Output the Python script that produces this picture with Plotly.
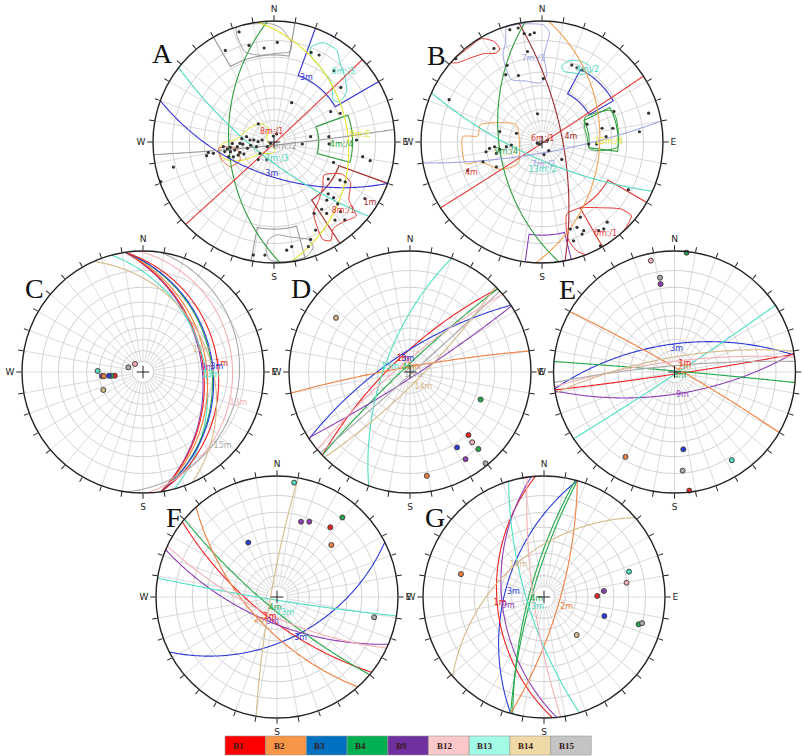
import numpy as np
import plotly.graph_objects as go

W, H = 802, 756
R_PX = 121

# ---------------- colours ----------------
SET_LINE = {"B1": "#EE2222", "B2": "#F08040", "B3": "#2A3BD8", "B4": "#22A84A", "B9": "#8E3FB5",
            "B12": "#F3B0B5", "B13": "#4FE0C4", "B14": "#D6B98A", "B15": "#A9A9A9"}
SET_FILL = {"B1": "#FF0000", "B2": "#F79646", "B3": "#0070C0", "B4": "#00B050", "B9": "#7030A0",
            "B12": "#FAC8C8", "B13": "#A2FBE6", "B14": "#EFD9A6", "B15": "#C4C4C4"}
LEGEND_SETS = ["B1", "B2", "B3", "B4", "B9", "B12", "B13", "B14", "B15"]
AB_COL = {"red": "#E53935", "blue": "#3535D5", "green": "#2E9E3E", "cyan": "#4FD8C0", "yellow": "#E3E32A",
          "grey": "#9A9A9A", "darkred": "#A52A2A", "orange": "#F0A050", "lavender": "#9FA6E0",
          "purple": "#8A3FC0", "maroon": "#9C2A2A", "redorange": "#E86A3A"}

# ---------------- panel A data ----------------
A_planes = [("green", 267, 49), ("red", 137, 89), ("blue", 200, 59), ("cyan", 218, 74),
            ("yellow", 82, 27), ("grey", 174, 87)]
A_dot_trend = [342.4, 332, 345.5, 354, 1.9, 22.5, 27.4, 40, 50.8, 24.2, 61.8, 66.5, 81.7, 94, 84.4, 92,
               88.6, 101, 99.4, 108.9, 124.3, 120, 119.2, 133.7, 133, 137.8, 134.2, 143.6, 150.7, 144.7,
               136.3, 137.7, 142, 154.7, 159.4, 121.9, 173.3, 170.4, 184.6, 190.4, 161.8, 250.7, 256,
               261, 259.4, 258.5, 264.7, 261.5, 257.4, 258.4, 262.7, 253, 248.2, 256.6, 274.8, 275.7,
               271, 279.5, 255, 281, 267.8, 250, 252, 235, 248, 354, 18, 222, 202, 231, 319,
               268, 263, 259, 266, 250, 276, 262]
A_dot_plunge = [2.7, 8.8, 11, 14, 11, 12.6, 12, 14.8, 19, 50.8, 34, 28.4, 56, 63.6, 41, 41,
                21.4, 12, 16.8, 35, 33, 25.6, 22, 26.4, 22, 24, 17.4, 17.5, 21.9, 21.5,
                12.9, 8, 11.4, 12.3, 8.6, 7, 6, 7.5, 3.7, 3, 5.4, 0.5, 8.8,
                32.4, 36, 30.8, 44.4, 47.4, 49.6, 53.4, 56, 57.2, 60, 64.6, 67.5, 71,
                75, 78.6, 73, 64, 58.6, 50.7, 46.8, 82.3, 86.6, 84.3, 82, 68, 72, 73, 67.6,
                52, 50, 45, 61, 55, 60, 68]
# windows: colour, azimuth from, azimuth to, outer plunge, inner plunge
A_windows = [("grey", 330, 370, 0, 18.5), ("blue", 20, 60, 0, 29.4), ("green", 70, 105, 24, 49.4),
             ("darkred", 110, 147, 0, 30.6), ("grey", 165, 191, 0, 18.5)]
A_blobs = [
    ("grey", [342, 348.5, 358.9, 3.9, 6.8, 10.2, 10, 1.7, 350.9, 342.2, 341, 340.8],
             [0, 0.3, 1.4, 3.5, 6.6, 10.7, 15.7, 17.5, 18, 14, 8.4, 3.7]),
    ("cyan", [21.6, 26.4, 34.3, 40, 47.4, 55.3, 58.6, 54.7, 44.5, 31.4, 25.6, 21.7],
             [9.4, 5, 4.8, 9.3, 13, 17.7, 25.2, 28, 21.6, 17.8, 16, 12.6]),
    ("red", [123.4, 115.3, 117.9, 127.6, 132, 138.7, 145.5, 150.1, 153.4, 152.7, 150.5, 143.4, 132.5],
            [37.3, 26.5, 18.8, 14, 5.2, 7.6, 8.2, 3.5, 6, 15.7, 22.9, 26.9, 32.7]),
    ("grey", [183.3, 178.4, 169.5, 160.6, 159.4, 164.1, 174, 182, 184.2],
             [12, 15, 12.6, 9, 4.5, 0.9, 0.3, 1.4, 6.3]),
    ("yellow", [265, 270.4, 273, 285.8, 304.5, 323, 337.5, 296.6, 233, 172, 191.6, 231, 235.8, 241.2, 249.2, 256.5],
               [41.7, 47.2, 54.4, 60.5, 64.8, 68.2, 76, 82.2, 85.3, 83, 79, 73, 63, 54.5, 44.8, 41]),
    ("redorange", [263.5, 251, 240.7, 242, 260.4, 264.4], [40.6, 41.1, 44.9, 54.8, 55.3, 47]),
]
A_labels = [("8m:/1", "red", 346, 80.6), ("9m:/2", "grey", 113, 78.7), ("7m:/3", "cyan", 171, 73.5),
            ("3m", "blue", 184, 60.3), ("9m:E", "yellow", 85.3, 19), ("4m:/4", "green", 92.5, 31.6),
            ("1m", "darkred", 122.6, 3.5), ("8m:/1", "red", 134.9, 12), ("9m:/2", "grey", 176, -6),
            ("6m:/3", "cyan", 44.6, 11.6), ("3m", "blue", 26.8, 28.5)]

# ---------------- panel B data ----------------
B_planes = [("red", 147, 89), ("maroon", 79, 70.7), ("green", 262, 51), ("orange", 93, 39),
            ("cyan", 204, 74), ("lavender", 170, 79.7)]
B_dot_trend = [344, 348.2, 350.7, 353.6, 356, 350.9, 335.5, 331.7, 340.5, 1.2, 351, 294.5, 314, 332.8,
               21.2, 25.2, 29, 74.9, 67, 68.4, 77.1, 79, 85.2, 92, 92.5, 84, 131.4, 171, 142, 225, 254,
               70.6, 288.9, 283.8, 263, 264.3, 260, 262.5, 264.4, 256, 260, 251.5, 241.4, 249, 118.9,
               153, 162, 157.7, 154.8, 162.3, 147.4, 144.6, 140.9, 150.6, 156.5]
B_dot_plunge = [2, 2.2, 5.5, 6.5, 5.7, 15.7, 20.3, 25.4, 29.5, 34.6, 63.4, 9.7, 0.5, 8,
                21.4, 21.7, 21.6, 5.2, 24.3, 46.4, 36, 28.4, 34, 41.5, 47.8, 12, 65.4, 78, 79.6, 87, 85.4,
                84.3, 64.9, 50.4, 42.8, 47, 50.9, 56.9, 61.5, 47.5, 39.7, 35.6, 43.5, 23.4, 11.6,
                20.2, 15.8, 15.4, 12, 8.8, 8, 7.2, 9, 0.9, 10.6]
B_windows = [("blue", 28, 60, 21.6, 41.5), ("green", 63, 97, 25.6, 47.4), ("red", 120, 150, 0, 25.6),
             ("purple", 166, 188, 0, 14.8)]
B_blobs = [
    ("red", [311.1, 323.6, 329.6, 334.7, 335.5, 332.7, 327, 320, 313.2],
            [0, 0.7, 0.5, 5, 9.7, 10.9, 7.8, 5.4, 2.5]),
    ("lavender", [342.7, 350.1, 0.7, 3.9, 2.8, 1.3, 4.1, 358, 345.7, 333.9, 334, 336, 340.3],
                 [0.5, 0.6, 1.9, 5.5, 12, 19.2, 32.7, 38, 35.1, 30.2, 21.3, 13.2, 6.8]),
    ("cyan", [14.6, 18.1, 24.2, 31.3, 34.9, 30.6, 23.4, 17], [24, 19.7, 17.1, 16.8, 19.4, 24, 26.1, 27.2]),
    ("green", [60.2, 65, 70.9, 93.5, 98.5, 98, 83.2, 70], [45.3, 26.5, 24.4, 25.7, 38, 46.6, 48.9, 49.1]),
    ("red", [160.9, 149.8, 138.4, 130.4, 129.5, 138.3, 149.4, 158.4, 162.2, 164.9, 164.2],
            [25.7, 25.6, 18, 9, 2.5, 0, 0, 0, 3.2, 10, 17.5]),
    ("orange", [273.9, 275.4, 285.5, 294.7, 303.9, 228, 236.3, 252.4, 254.3],
               [23.4, 34, 34.1, 47.9, 61.5, 60.2, 45.6, 33.3, 23.3]),
]
B_labels = [("6m:/1", "red", 14, 87.3), ("4m", "maroon", 80.8, 62.8), ("4m", "red", 246.4, 25),
            ("9m:/4", "green", 254.7, 56), ("7m:/2", "lavender", 176.7, 68.3), ("13m:/2", "cyan", 178.6, 63.8),
            ("13m:/4", "yellow", 89.7, 32.1), ("7m:/1", "lavender", 354, 21), ("4m:/2", "cyan", 32.4, 20),
            ("6m:/1", "red", 145.4, 4.5)]

# ---------------- panels C-G: (set, dip direction, dip) ----------------
C_planes = [("B9", 81.5, 38), ("B1", 81.5, 37), ("B13", 75, 36), ("B2", 81.5, 34.5), ("B4", 81.5, 30.8),
            ("B3", 81.5, 30), ("B1", 81.5, 26.4), ("B12", 88, 17), ("B15", 98, 13), ("B14", 66, 32)]
C_poles = [("B1", 262.5, 63.6), ("B4", 263, 60.5), ("B3", 263.7, 58.4), ("B9", 264.5, 52.3), ("B2", 264, 54),
           ("B13", 271.3, 48.9), ("B15", 287.6, 75.5), ("B12", 315, 79.3), ("B14", 245.6, 50.4)]
C_labels = [("9m", "B9", 86.7, 34), ("1m", "B1", 84.4, 23.7), ("3m", "B3", 86, 27), ("14m", "B14", 69.4, 35.2),
            ("13m", "B12", 108.2, 10.6), ("15m", "B15", 133.1, 6), ("13m", "B13", 92.7, 31.5)]

D_planes = [("B1", 316.5, 74), ("B4", 316.5, 84), ("B3", 326.5, 72), ("B9", 147, 85), ("B2", 350, 85),
            ("B13", 290, 66), ("B15", 138, 88), ("B14", 135, 80), ("B12", 320, 80)]
D_poles = [("B14", 306.2, 15.7), ("B4", 111.3, 25.9), ("B1", 137.2, 19.2), ("B12", 138.5, 14.4),
           ("B3", 148, 17.4), ("B4", 138.4, 9.2), ("B9", 147.5, 9), ("B15", 140.4, 1.2), ("B2", 170.8, 8)]
D_labels = [("1m", "B1", 332, 76.4), ("3m", "B3", 350, 78), ("4m", "B4", 335, 86), ("2m", "B2", 35, 84.5),
            ("13m", "B13", 283, 70.6), ("15m", "B15", 132, 85.8), ("14m", "B14", 137.7, 71.3)]

E_planes = [("B3", 352, 64), ("B9", 171, 69.4), ("B1", 171.5, 88), ("B4", 5, 89), ("B2", 30, 86),
            ("B13", 146.5, 88), ("B12", 353, 80), ("B15", 355, 84), ("B14", 350, 76)]
E_poles = [("B12", 348, 3.5), ("B15", 351.3, 13.5), ("B9", 351, 17.3), ("B4", 5.8, 0.5), ("B2", 210, 12),
           ("B3", 173.5, 24.5), ("B15", 175.3, 11.4), ("B13", 147, 8), ("B1", 172.9, 0.7)]
E_labels = [("3m", "B3", 5.5, 68.6), ("9m", "B9", 161, 67.4), ("4m", "B4", 126, 83.6), ("1m", "B1", 52.7, 77.6),
            ("2m", "B2", 62, 79)]

F_planes = [("B3", 153, 51), ("B1", 218.5, 70), ("B4", 220, 79), ("B9", 203, 66), ("B2", 228, 63.4),
            ("B13", 189, 87), ("B14", 280, 84), ("B12", 205, 72)]
F_poles = [("B13", 8.5, 2.6), ("B9", 17.7, 23.7), ("B9", 23.2, 21.8), ("B4", 39.4, 9.2), ("B1", 37.4, 18.1),
           ("B2", 46.3, 26.3), ("B3", 332.2, 36.1), ("B15", 101.8, 11.3)]
F_labels = [("4m", "B4", 190, 79.1), ("13m", "B13", 153, 73.5), ("1m", "B1", 199.6, 70.5), ("2m", "B2", 215.3, 63.4),
            ("9m", "B9", 189.7, 66), ("3m", "B3", 150.3, 47)]

G_planes = [("B3", 286, 54.4), ("B1", 266, 47.4), ("B9", 264, 51.5), ("B4", 286, 78.6), ("B4", 285, 76),
            ("B2", 106, 75), ("B13", 253, 73.7), ("B14", 319, 50.8), ("B12", 262, 80)]
G_poles = [("B2", 285.4, 19.1), ("B13", 73.4, 17.5), ("B12", 80.2, 20.6), ("B1", 88.9, 42.5), ("B9", 84.3, 37.1),
           ("B3", 107.5, 34.8), ("B4", 106.1, 11.7), ("B15", 104.9, 10), ("B14", 139.3, 45)]
G_labels = [("3m", "B3", 280, 61.2), ("1m", "B1", 261.8, 49.7), ("9m", "B9", 256.3, 56.3), ("4m", "B4", 252, 82.7),
            ("13m", "B13", 223, 77.6), ("2m", "B2", 114.5, 66.7), ("14m", "B14", 321.3, 52.6)]

# layout of panels (pixel centres)
PANELS = [("A", 274, 142, (162, 53)), ("B", 542, 142, (436, 55)), ("C", 143, 372, (34, 288)),
          ("D", 410, 372, (301, 288)), ("E", 674.5, 372, (567, 289)), ("F", 277, 597, (174, 517)),
          ("G", 544, 597, (435, 517))]


# ---------------- projection helpers (equal-angle, lower hemisphere) ----------------
def proj(plunge):
    return np.tan(np.radians(90.0 - np.asarray(plunge, dtype=float)) / 2.0)


def great_circle(dd, dip, n=181):
    psi = np.linspace(0, np.pi, n)
    st, d, dp = np.radians(dd - 90), np.radians(dd), np.radians(dip)
    s = np.array([np.cos(st), np.sin(st), 0.0])
    dv = np.array([np.cos(dp) * np.cos(d), np.cos(dp) * np.sin(d), np.sin(dp)])
    v = np.outer(np.cos(psi), s) + np.outer(np.sin(psi), dv)
    trend = np.degrees(np.arctan2(v[:, 1], v[:, 0])) % 360
    plunge = np.degrees(np.arcsin(np.clip(v[:, 2], -1, 1)))
    return trend, proj(plunge)


def window(a1, a2, p_out, p_in):
    az = np.linspace(a1, a2, 40)
    th = np.concatenate([az, az[::-1], az[:1]])
    r = np.concatenate([np.full(40, proj(p_out)), np.full(40, proj(p_in)), [proj(p_out)]])
    return th, r


fig = go.Figure()
ring_r = proj([80, 70, 60, 50, 40, 30, 20, 10])
r_in = float(proj(80))
layout_polars = {}
annotations = []

for i, (name, cx, cy, lpos) in enumerate(PANELS):
    key = "polar" if i == 0 else f"polar{i + 1}"
    sub = "polar" if i == 0 else f"polar{i + 1}"
    ticktext = [{0: "N", 90: "E", 180: "S", 270: "W"}.get(a, "") for a in range(0, 360, 10)]
    layout_polars[key] = dict(
        domain=dict(x=[(cx - R_PX) / W, (cx + R_PX) / W], y=[1 - (cy + R_PX) / H, 1 - (cy - R_PX) / H]),
        bgcolor="rgba(0,0,0,0)",
        radialaxis=dict(range=[0, 1], tickmode="array", tickvals=list(ring_r), showticklabels=False, ticks="",
                        showline=False, gridcolor="#d2d2d2", gridwidth=0.8),
        angularaxis=dict(rotation=90, direction="clockwise", tickmode="array", tickvals=list(range(0, 360, 10)),
                         ticktext=ticktext, ticks="outside", ticklen=5, tickcolor="#222", tickwidth=1,
                         showgrid=False, showline=True, linecolor="#222", linewidth=1.4,
                         tickfont=dict(size=9, family="DejaVu Sans", color="#222")),
    )
    # spokes
    th, rr = [], []
    for a in range(0, 360, 10):
        th += [a, a, None]
        rr += [r_in, 1.0, None]
    fig.add_trace(go.Scatterpolar(theta=th, r=rr, mode="lines", line=dict(color="#d2d2d2", width=0.8),
                                  hoverinfo="skip", showlegend=False, subplot=sub))
    annotations.append(dict(text=name, x=lpos[0] / W, y=1 - lpos[1] / H, xref="paper", yref="paper",
                            showarrow=False, xanchor="center", yanchor="middle",
                            font=dict(family="Liberation Serif", size=28, color="#111")))

    if name in ("A", "B"):
        planes, dtr, dpl, wins, blobs, labels = {
            "A": (A_planes, A_dot_trend, A_dot_plunge, A_windows, A_blobs, A_labels),
            "B": (B_planes, B_dot_trend, B_dot_plunge, B_windows, B_blobs, B_labels)}[name]
        for col, a1, a2, po, pi in wins:
            t, r = window(a1, a2, po, pi)
            fig.add_trace(go.Scatterpolar(theta=t, r=r, mode="lines", line=dict(color=AB_COL[col], width=1.1),
                                          hoverinfo="skip", showlegend=False, subplot=sub))
        for col, bt, bp in blobs:
            fig.add_trace(go.Scatterpolar(theta=bt + bt[:1], r=list(proj(bp + bp[:1])), mode="lines",
                                          line=dict(color=AB_COL[col], width=1, shape="spline", smoothing=0.6),
                                          hoverinfo="skip", showlegend=False, subplot=sub))
        for col, dd, dip in planes:
            t, r = great_circle(dd, dip)
            fig.add_trace(go.Scatterpolar(theta=t, r=r, mode="lines", line=dict(color=AB_COL[col], width=1.1),
                                          hoverinfo="skip", showlegend=False, subplot=sub))
        fig.add_trace(go.Scatterpolar(theta=dtr, r=proj(dpl), mode="markers",
                                      marker=dict(size=3.2, color="#333"), hoverinfo="skip",
                                      showlegend=False, subplot=sub))
        for txt, col, t, p in labels:
            fig.add_trace(go.Scatterpolar(theta=[t], r=[float(proj(p))], mode="text", text=[txt],
                                          textfont=dict(size=8, family="DejaVu Sans", color=AB_COL[col]),
                                          cliponaxis=False, hoverinfo="skip", showlegend=False, subplot=sub))
    else:
        planes, poles, labels = {"C": (C_planes, C_poles, C_labels), "D": (D_planes, D_poles, D_labels),
                                 "E": (E_planes, E_poles, E_labels), "F": (F_planes, F_poles, F_labels),
                                 "G": (G_planes, G_poles, G_labels)}[name]
        for s, dd, dip in planes:
            t, r = great_circle(dd, dip)
            fig.add_trace(go.Scatterpolar(theta=t, r=r, mode="lines", line=dict(color=SET_LINE[s], width=1.1),
                                          hoverinfo="skip", showlegend=False, subplot=sub))
        for s, t, p in poles:
            fig.add_trace(go.Scatterpolar(theta=[t], r=[float(proj(p))], mode="markers",
                                          marker=dict(size=5, color=SET_LINE[s], line=dict(color="#444", width=1)),
                                          hoverinfo="skip", showlegend=False, subplot=sub))
        for txt, s, t, p in labels:
            fig.add_trace(go.Scatterpolar(theta=[t], r=[float(proj(p))], mode="text", text=[txt],
                                          textfont=dict(size=8, family="DejaVu Sans", color=SET_LINE[s]),
                                          cliponaxis=False, hoverinfo="skip", showlegend=False, subplot=sub))
    # centre cross
    fig.add_trace(go.Scatterpolar(theta=[0], r=[0], mode="markers",
                                  marker=dict(symbol="cross-thin", size=9, line=dict(color="#222", width=1)),
                                  hoverinfo="skip", showlegend=False, subplot=sub))

# legend strip
shapes = []
x0, bw = 225, 40.7
for i, s in enumerate(LEGEND_SETS):
    shapes.append(dict(type="rect", xref="paper", yref="paper", x0=(x0 + i * bw) / W, x1=(x0 + (i + 1) * bw) / W,
                       y0=1 / H, y1=20 / H, fillcolor=SET_FILL[s], line=dict(width=0.6, color="#999"), layer="below"))
    annotations.append(dict(text=f"<b>{s}</b>", x=(x0 + i * bw + 6) / W, y=10.5 / H, xref="paper", yref="paper",
                            showarrow=False, xanchor="left", yanchor="middle",
                            font=dict(family="Liberation Serif", size=9, color="#3a1a1a")))

fig.update_layout(width=W, height=H, margin=dict(l=0, r=0, t=0, b=0), paper_bgcolor="white",
                  plot_bgcolor="white", showlegend=False, annotations=annotations, shapes=shapes,
                  **layout_polars)
fig.write_html("out.html", config={"displayModeBar": False},
               post_script="document.body.style.margin='0px';document.body.style.overflow='hidden';")
